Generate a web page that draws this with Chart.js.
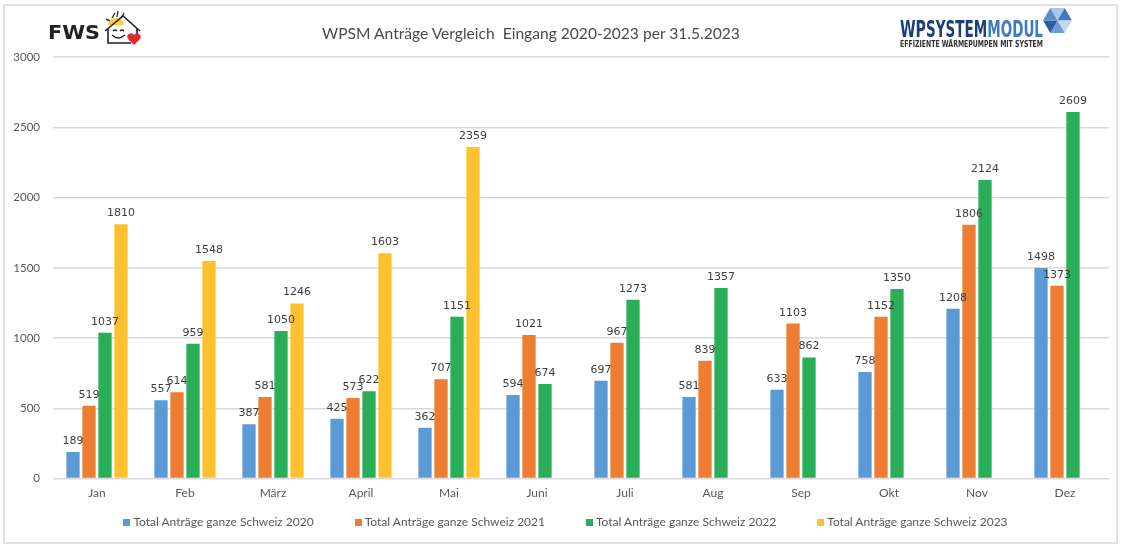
<title>WPSM Anträge Vergleich</title>
<meta charset="UTF-8">
<body style="margin:0; background:#fff">
<script src="https://cdn.jsdelivr.net/npm/chart.js@4.4.0/dist/chart.umd.min.js"></script>

<div id="wrap" style="position:relative; width:1121px; height:545px; overflow:hidden; font-family:Lato, 'Open Sans', sans-serif">
<div style="position:absolute; left:3px; top:4px; width:1111px; height:536px; border:2px solid #e2e2e2"></div>
<canvas id="chart1" width="1121" height="545" style="position:absolute; left:0; top:0"></canvas>

<div id="titel" style="position:absolute; left:231px; top:23px; width:600px; text-align:center; font-size:15.6px; line-height:20px; color:#4a4a4a">WPSM Anträge Vergleich&nbsp; Eingang 2020-2023 per 31.5.2023</div>

<!-- FWS logo -->
<svg style="position:absolute; left:0; top:0" width="160" height="55">
  <text x="48" y="39" font-family="DejaVu Sans" font-weight="bold" font-size="19.5" fill="#222" textLength="52" lengthAdjust="spacingAndGlyphs">FWS</text>
  <path d="M112 18 L115 13 M117 17 L118 11 M121 18 L124 13 M110 21 L106 19" stroke="#333" stroke-width="1.4" fill="none"/>
  <path d="M108 25 A8 7 0 0 1 124 25 Z" fill="#f7d236"/>
  <path d="M105 31 L123 16 L140 31 M108 29 L108 43 L131 43 M137 28 L137 36" stroke="#222" stroke-width="1.6" fill="none"/>
  <path d="M113 31 q2 -2 4 0 M120 31 q2 -2 4 0 M112 35 q6 6 13 0" stroke="#222" stroke-width="1.3" fill="none"/>
  <path d="M134 45 L128 39 A2.6 2.6 0 0 1 134 35 A2.6 2.6 0 0 1 140 39 Z" fill="#e02b2b"/>
</svg>

<!-- WPSYSTEMMODUL logo -->
<svg style="position:absolute; left:0; top:0" width="1121" height="55">
  <text x="900" y="37" font-family="'Liberation Sans Narrow', 'DejaVu Sans Condensed'" font-weight="bold" font-size="23.5" fill="#1d3f78" textLength="26" lengthAdjust="spacingAndGlyphs">WP</text>
  <text x="926" y="37" font-family="'Liberation Sans Narrow', 'DejaVu Sans Condensed'" font-weight="bold" font-size="23.5" textLength="117" lengthAdjust="spacingAndGlyphs"><tspan fill="#1d3f78">SYSTEM</tspan><tspan fill="#3d7cc0">MODUL</tspan></text>
  <text x="900" y="47" font-family="'Liberation Sans Narrow', 'DejaVu Sans Condensed'" font-weight="bold" font-size="8" fill="#333" textLength="143" lengthAdjust="spacingAndGlyphs">EFFIZIENTE WÄRMEPUMPEN MIT SYSTEM</text>
  <g transform="translate(1057.5,20.5)">
    <path d="M0 0 L-7.2 -12.5 L7.2 -12.5 Z" fill="#a9c6e8"/>
    <path d="M0 0 L7.2 -12.5 L14.5 0 Z" fill="#3f78bd"/>
    <path d="M0 0 L14.5 0 L7.2 12.5 Z" fill="#c4d8ee"/>
    <path d="M0 0 L7.2 12.5 L-7.2 12.5 Z" fill="#6e9bd1"/>
    <path d="M0 0 L-7.2 12.5 L-14.5 0 Z" fill="#2c5d9f"/>
    <path d="M0 0 L-14.5 0 L-7.2 -12.5 Z" fill="#5b8ccb"/>
  </g>
</svg>

<div id="legend" style="position:absolute; left:5px; top:514px; width:1121px; display:flex; justify-content:center; gap:41px; font-size:12px; color:#595959; line-height:16px"></div>
</div>

<script>
// Werte
var monate = ["Jan", "Feb", "März", "April", "Mai", "Juni", "Juli", "Aug", "Sep", "Okt", "Nov", "Dez"];
var j2020 = [189, 557, 387, 425, 362, 594, 697, 581, 633, 758, 1208, 1498];
var j2021 = [519, 614, 581, 573, 707, 1021, 967, 839, 1103, 1152, 1806, 1373];
var j2022 = [1037, 959, 1050, 622, 1151, 674, 1273, 1357, 862, 1350, 2124, 2609];
var j2023 = [1810, 1548, 1246, 1603, 2359, null, null, null, null, null, null, null];
var namen = ["Total Anträge ganze Schweiz 2020", "Total Anträge ganze Schweiz 2021", "Total Anträge ganze Schweiz 2022", "Total Anträge ganze Schweiz 2023"];
var farben = ["#5b9bd5", "#ed7d31", "#2bae58", "#fdc02f"];

var serien = [j2020, j2021, j2022, j2023];
var datasets = [];
for (var i = 0; i < serien.length; i++) {
	datasets.push({
		label: namen[i],
		data: serien[i],
		backgroundColor: farben[i],
		categoryPercentage: 0.727,
		barPercentage: 0.83
	});
}

// Zahlen über den Balken
var werte = {
	id: "werte",
	afterDatasetsDraw: function(chart) {
		var ctx = chart.ctx;
		ctx.save();
		ctx.font = "11px 'DejaVu Sans'";
		ctx.fillStyle = "#404040";
		ctx.textAlign = "center";
		chart.data.datasets.forEach(function(ds, i) {
			chart.getDatasetMeta(i).data.forEach(function(bar, j) {
				if (ds.data[j] == null) return;
				ctx.fillText(ds.data[j], bar.x, bar.y - 8);
			});
		});
		ctx.restore();
	}
};

new Chart("chart1", {
	type: "bar",
	data: { labels: monate, datasets: datasets },
	plugins: [werte],
	options: {
		responsive: false,
		animation: false,
		devicePixelRatio: 1,
		layout: { padding: { left: 0, right: 12, top: 57, bottom: 38 } },
		plugins: {
			legend: { display: false },
			tooltip: { enabled: false },
			title: { display: false }
		},
		scales: {
			x: {
				grid: { display: false, drawTicks: false },
				border: { display: false },
				ticks: { color: "#595959", font: { family: "Lato", size: 12 }, padding: 7 }
			},
			y: {
				min: 0,
				max: 3000,
				afterFit: function(scale) { scale.width = 53; },
				grid: { color: "#d9d9d9", lineWidth: 1.5, drawTicks: false },
				border: { display: false },
				ticks: {
					stepSize: 500,
					color: "#595959",
					font: { family: "Lato", size: 11.5 },
					padding: 13,
					callback: function(v) { return String(v); }
				}
			}
		}
	}
});

// Legende als HTML
var leg = document.getElementById("legend");
for (var k = 0; k < namen.length; k++) {
	leg.innerHTML += '<span><span style="display:inline-block; width:7px; height:7px; background:' + farben[k] + '; margin-right:3px"></span>' + namen[k] + '</span>';
}
</script>
</body>
